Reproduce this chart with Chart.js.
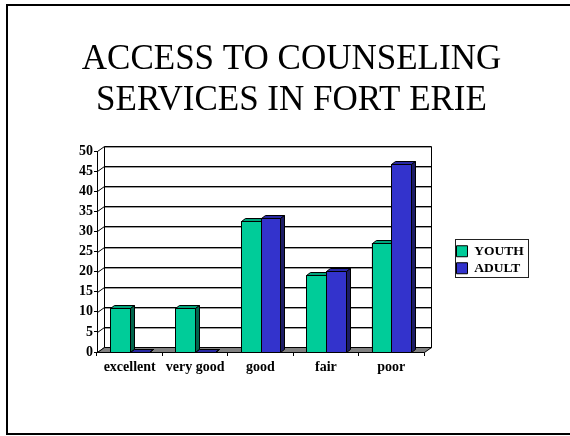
<!DOCTYPE html>
<html>
<head>
<meta charset="utf-8">
<title>Access to counseling services in Fort Erie</title>
<style>
  html, body { margin: 0; padding: 0; background: #fff; }
  #wrap { width: 570px; height: 436px; }
</style>
<script src="https://cdn.jsdelivr.net/npm/chart.js@4.4.1/dist/chart.umd.min.js"></script>
</head>
<body>
<div id="wrap"><canvas id="accessChart" width="570" height="436"></canvas></div>
<script>
// values
const categories = ['excellent', 'very good', 'good', 'fair', 'poor'];
const youthValues = [10.9, 10.9, 32.6, 19.1, 27.1];
const adultValues = [0, 0, 33.4, 20.1, 46.8];
const yTickValues = [0, 5, 10, 15, 20, 25, 30, 35, 40, 45, 50];

const FONT = "'Liberation Serif', 'Times New Roman', Times, serif";

// 3d look: offset of the back wall and depth of each column
const WALL_DX = 7, WALL_DY = -5;
const BAR_DX = 4, BAR_DY = -3;
const faces = [
    { front: '#00cc99', top: '#00a47b', side: '#00664c' },
    { front: '#3333cc', top: '#2828a3', side: '#1c1c66' }
];

function px(v) {
    return Math.round(v) + 0.5;
}

function poly(ctx, pts, fill, stroke) {
    ctx.beginPath();
    ctx.moveTo(pts[0][0], pts[0][1]);
    for (let i = 1; i < pts.length; i++) ctx.lineTo(pts[i][0], pts[i][1]);
    ctx.closePath();
    if (fill) { ctx.fillStyle = fill; ctx.fill(); }
    if (stroke) { ctx.strokeStyle = stroke; ctx.stroke(); }
}

function line(ctx, x1, y1, x2, y2, color) {
    ctx.beginPath();
    ctx.moveTo(x1, y1);
    ctx.lineTo(x2, y2);
    ctx.strokeStyle = color;
    ctx.stroke();
}

const threeD = {
    id: 'threeD',
    beforeLayout(chart) {
        // legend keeps a wide column on the right, like the slide
        const lg = chart.legend;
        if (lg && !lg.fitPatched) {
            const fit = lg.fit;
            lg.fit = function () {
                fit.call(this);
                this.width = 146;
            };
            lg.fitPatched = true;
        }
    },
    afterLayout(chart) {
        const lg = chart.legend;
        const a = chart.chartArea;
        lg.left = a.right + 29;
        lg.right = lg.left + 80;
        lg.top = a.top + 88;
        lg.bottom = lg.top + 41.5;
    },
    beforeDatasetsDraw(chart) {
        const { ctx, chartArea: a, scales: { y } } = chart;
        const L = px(a.left), R = px(a.right), T = px(a.top), B = px(a.bottom);
        ctx.save();
        ctx.lineWidth = 1;

        // back wall gridlines + side wall diagonals
        yTickValues.forEach(v => {
            const py = px(y.getPixelForValue(v));
            line(ctx, L + WALL_DX, py + WALL_DY + 1, R + WALL_DX, py + WALL_DY + 1, '#9a9a9a');
            line(ctx, L + WALL_DX, py + WALL_DY, R + WALL_DX, py + WALL_DY, '#000');
            line(ctx, L, py, L + WALL_DX, py + WALL_DY, '#000');
        });

        // wall edges
        line(ctx, L + WALL_DX, T + WALL_DY, L + WALL_DX, B + WALL_DY, '#000');
        line(ctx, R + WALL_DX, T + WALL_DY, R + WALL_DX, B + WALL_DY, '#000');
        line(ctx, L, T, L, B, '#000');

        // floor
        poly(ctx, [[L, B], [R, B], [R + WALL_DX, B + WALL_DY], [L + WALL_DX, B + WALL_DY]], '#808080', '#000');
        ctx.restore();
    },
    afterDatasetsDraw(chart) {
        const ctx = chart.ctx;
        ctx.save();
        ctx.lineWidth = 1;
        categories.forEach((c, i) => {
            chart.data.datasets.forEach((ds, d) => {
                const bar = chart.getDatasetMeta(d).data[i];
                const { x, y, base, width } = bar.getProps(['x', 'y', 'base', 'width'], true);
                const l = px(x - width / 2), r = px(x + width / 2);
                const t = px(y), b = px(base);
                const f = faces[d];
                poly(ctx, [[l, t], [r, t], [r, b], [l, b]], f.front, '#000');
                poly(ctx, [[l, t], [r, t], [r + BAR_DX, t + BAR_DY], [l + BAR_DX, t + BAR_DY]], f.top, '#000');
                poly(ctx, [[r, t], [r + BAR_DX, t + BAR_DY], [r + BAR_DX, b + BAR_DY], [r, b]], f.side, '#000');
            });
        });
        ctx.restore();
    },
    afterDraw(chart) {
        const ctx = chart.ctx;
        ctx.save();
        // legend frame
        const hb = chart.legend.legendHitBoxes;
        if (hb && hb.length) {
            const x0 = px(hb[0].left - 2);
            const x1 = px(Math.max(...hb.map(h => h.left + h.width)) + 4);
            const y0 = px(hb[0].top - 6);
            const y1 = px(hb[hb.length - 1].top + hb[hb.length - 1].height + 2);
            ctx.lineWidth = 1;
            ctx.strokeStyle = '#222';
            ctx.strokeRect(x0, y0, x1 - x0, y1 - y0);
        }
        // slide border
        ctx.lineWidth = 2;
        ctx.strokeStyle = '#000';
        ctx.strokeRect(7, 5, 620, 429);
        ctx.restore();
    }
};

const ctx = document.getElementById('accessChart').getContext('2d');
const accessChart = new Chart(ctx, {
    type: 'bar',
    data: {
        labels: categories,
        datasets: [{
            label: 'YOUTH',
            data: youthValues,
            backgroundColor: faces[0].front,
            borderColor: '#000',
            borderWidth: 1,
            borderSkipped: false
        }, {
            label: 'ADULT',
            data: adultValues,
            backgroundColor: faces[1].front,
            borderColor: '#000',
            borderWidth: 1,
            borderSkipped: false
        }]
    },
    options: {
        responsive: false,
        animation: false,
        devicePixelRatio: 1,
        layout: { padding: { left: 13, right: 0, top: 0, bottom: 0 } },
        datasets: {
            bar: { categoryPercentage: 0.6, barPercentage: 1.0 }
        },
        scales: {
            x: {
                offset: true,
                grid: { display: true, drawOnChartArea: false, drawTicks: true, tickLength: 4, color: '#000', offset: true },
                border: { display: true, color: '#000' },
                ticks: { color: '#000', padding: 3, font: { family: FONT, size: 14, weight: 'bold' } },
                afterFit(scale) { scale.height = 84; }
            },
            y: {
                min: 0,
                max: 50,
                afterBuildTicks(scale) { scale.ticks = yTickValues.map(v => ({ value: v })); },
                grid: { display: true, drawOnChartArea: false, drawTicks: true, tickLength: 3, color: '#000' },
                border: { display: true, color: '#000' },
                ticks: { color: '#000', padding: 1, font: { family: FONT, size: 14, weight: 'bold' } },
                afterFit(scale) { scale.width = 84; }
            }
        },
        plugins: {
            title: {
                display: true,
                text: ['ACCESS TO COUNSELING', 'SERVICES IN FORT ERIE'],
                color: '#000',
                font: { family: FONT, size: 35, weight: 'normal', lineHeight: 41 / 35 },
                padding: { top: 39.4, bottom: 29.6 }
            },
            legend: {
                position: 'right',
                labels: {
                    color: '#000',
                    boxWidth: 11,
                    boxHeight: 11,
                    padding: 3.5,
                    font: { family: FONT, size: 13.5, weight: 'bold' }
                }
            },
            tooltip: { enabled: false }
        }
    },
    plugins: [threeD]
});
</script>
</body>
</html>
